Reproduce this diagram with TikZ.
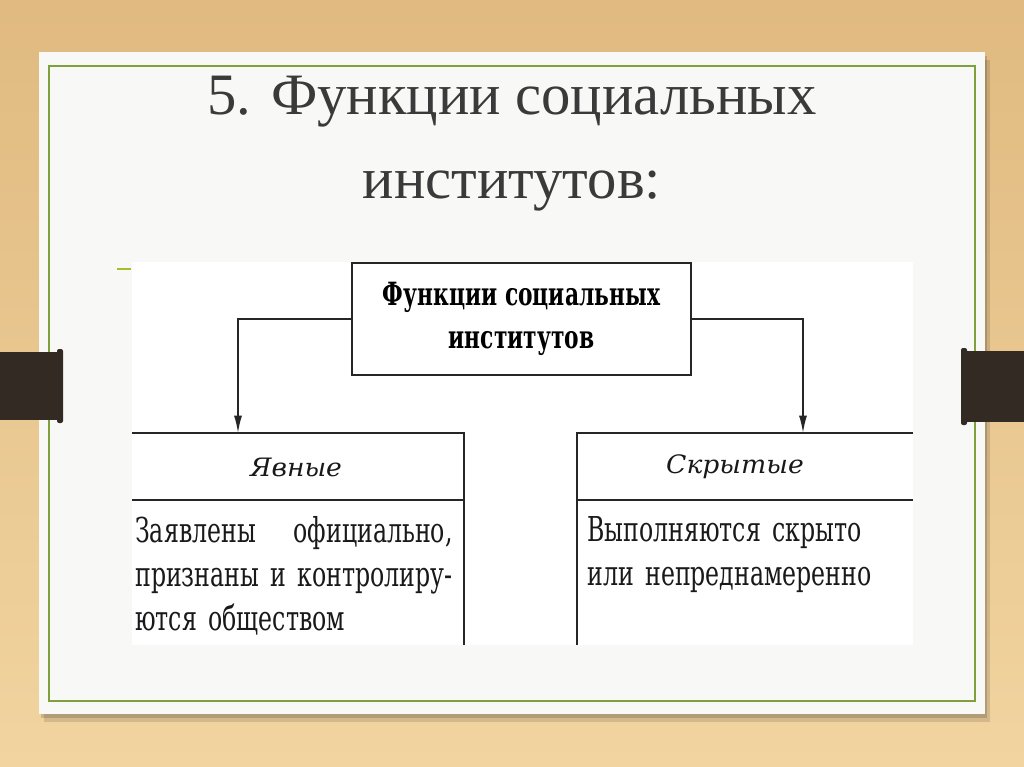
\documentclass[tikz,border=0pt]{standalone}
\usepackage{fontspec}
\setmainfont{Liberation Serif}
\newfontfamily\schemefont[FakeStretch=0.69]{DejaVu Serif}
\newfontfamily\boxfont[FakeStretch=0.68]{DejaVu Serif}
\newfontfamily\capfont[FakeStretch=1.05]{DejaVu Serif}
\usetikzlibrary{arrows.meta}

\definecolor{woodlight}{RGB}{241,212,160}
\definecolor{wooddark}{RGB}{224,186,128}
\definecolor{cardgray}{RGB}{248,248,247}
\definecolor{olive}{RGB}{128,160,62}
\definecolor{tabbrown}{RGB}{52,42,36}
\definecolor{titlegray}{RGB}{58,58,58}

\tikzset{
  frame/.style={draw=black!85, line width=1.2pt},
  arr/.style={frame, -{Latex[length=13pt,width=6pt]}},
  caption/.style={font=\capfont\fontsize{19}{22}\selectfont\itshape, text=black!90},
  body/.style={font=\schemefont\fontsize{25.7}{33}\selectfont, text=black!90, inner sep=0pt, text width=238pt, align=left}
}

\begin{document}
\begin{tikzpicture}[x=0.75pt,y=-0.75pt]
\useasboundingbox (0,0) rectangle (1024,767);

\shade[top color=wooddark, bottom color=woodlight] (0,0) rectangle (1024,767);
\fill[black, opacity=.12] (44,60) rectangle (990,722);
\fill[black, opacity=.15] (41,56) rectangle (987,718);
\fill[cardgray] (39,52) rectangle (985,714);
\draw[olive, line width=1.2pt] (49,66) rectangle (975,701);
\fill[tabbrown] (0,352) rectangle (62,420);
\fill[tabbrown, rounded corners=1.5pt] (57,349) rectangle (63,423);
\fill[tabbrown] (962,351) rectangle (1024,422);
\fill[tabbrown, rounded corners=1.5pt] (961,348) rectangle (967,425);

\node[font=\fontsize{44}{62.5}\selectfont, text=titlegray, align=center, inner sep=0pt, anchor=north] (title) at (512,76) {5. Функции социальных\\институтов:};

\draw[olive!70!yellow, line width=1.5pt] (117,269) -- (131,269);
\fill[white] (132,262) rectangle (913,645);

\node[frame, minimum width=254pt, minimum height=84pt, align=center, font=\boxfont\fontsize{24}{32}\selectfont\bfseries] (funcs) at (521.5,319) {Функции социальных\\институтов};

\draw[frame] (132,433) -- (464,433) -- (464,645);
\draw[frame] (132,500) -- (464,500);
\draw[frame] (913,433) -- (577,433) -- (577,645);
\draw[frame] (577,500) -- (913,500);

\node[caption] (overt) at (296,467) {Явные};
\node[caption] (latent) at (735,467) {Скрытые};
\node[body, anchor=north west] (overtdesc) at (135,516) {Заявлены\hfill официально,\\ признаны\hfill и\hfill контролиру-\\ ются обществом};
\node[body, anchor=north west] (latentdesc) at (587,516) {Выполняются скрыто\\ или непреднамеренно};

\coordinate (overtin) at (238,433);
\coordinate (latentin) at (803,433);
\draw[arr] (funcs.west) -| (overtin);
\draw[arr] (funcs.east) -| (latentin);

\end{tikzpicture}
\end{document}
